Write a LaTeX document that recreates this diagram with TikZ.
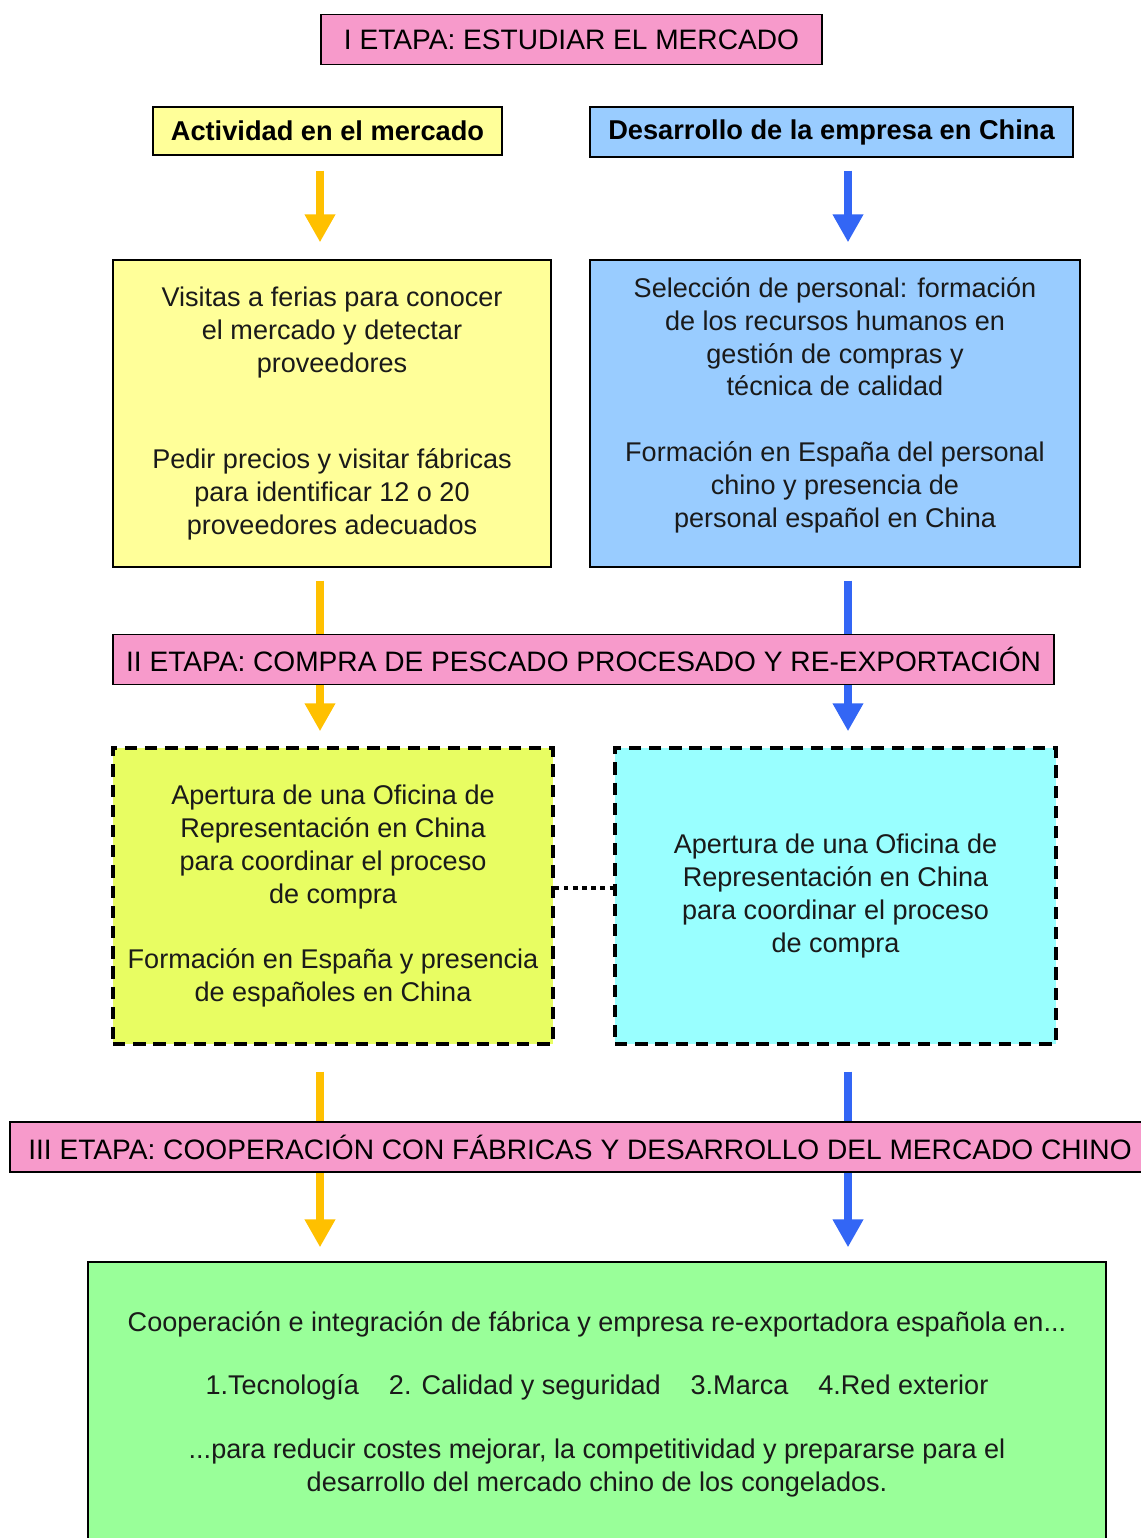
\documentclass[tikz,border=0pt]{standalone}
\usepackage{fontspec}
\setmainfont{Liberation Sans}
\usetikzlibrary{arrows.meta,positioning,backgrounds}
\definecolor{stagepink}{HTML}{F79ACB}
\definecolor{paleyellow}{HTML}{FFFF99}
\definecolor{paleblue}{HTML}{99CCFF}
\definecolor{limeyellow}{HTML}{E8FD62}
\definecolor{palecyan}{HTML}{99FFFF}
\definecolor{palegreen}{HTML}{99FF99}
\definecolor{goldarrow}{HTML}{FFC000}
\definecolor{bluearrow}{HTML}{3366F5}
\definecolor{textgray}{HTML}{1A1A1A}

\begin{document}
\begin{tikzpicture}[
    x=0.02cm, y=-0.02cm,
    font=\fontsize{15.4}{18.7}\selectfont,
    stage/.style={rectangle, draw=black, line width=0.8pt, fill=stagepink, inner sep=0pt, minimum height=1cm, font=\fontsize{16}{18.7}\selectfont},
    head/.style={rectangle, draw=black, line width=0.8pt, inner sep=0pt, minimum height=1cm, font=\fontsize{15.5}{18.7}\selectfont\bfseries},
    box/.style={rectangle, draw=black, line width=0.8pt, inner sep=0pt, align=center, text=textgray},
    dbox/.style={box, line width=2pt, dash pattern=on 7pt off 4.5pt},
    yarrow/.style={-{Triangle[width=0.58cm, length=0.56cm]}, line width=4.5pt, color=goldarrow},
    barrow/.style={-{Triangle[width=0.58cm, length=0.56cm]}, line width=4.5pt, color=bluearrow}
]
    \useasboundingbox (0,0) rectangle (1141,1538);

    % stages
    \node[stage, minimum width=10.02cm] (stage1) at (571.5,39.5) {I ETAPA: ESTUDIAR EL MERCADO};
    \node[stage, minimum width=18.82cm] (stage2) at (583.5,659.5) {II ETAPA: COMPRA DE PESCADO PROCESADO Y RE-EXPORTACIÓN};
    \node[stage, minimum width=22.8cm] (stage3) at (580,1147) {III ETAPA: COOPERACIÓN CON FÁBRICAS Y DESARROLLO DEL MERCADO CHINO};

    % column headers
    \node[head, fill=paleyellow, minimum width=6.98cm, minimum height=0.96cm] (act) at (327.5,131) {Actividad en el mercado};
    \node[head, fill=paleblue, minimum width=9.66cm] (desa) at (831.5,132) {Desarrollo de la empresa en China};

    % stage I boxes
    \node[box, fill=paleyellow, minimum width=8.76cm, minimum height=6.14cm] (ferias) at (332,413.5)
        {Visitas a ferias para conocer\\el mercado y detectar\\proveedores\\[36pt]
         Pedir precios y visitar fábricas\\para identificar 12 o 20\\proveedores adecuados};
    \node[box, fill=paleblue, minimum width=9.8cm, minimum height=6.14cm] (personal) at (835,413.5)
        {Selección de personal: formación\\de los recursos humanos en\\gestión de compras y\\técnica de calidad\\[18.7pt]
         Formación en España del personal\\chino y presencia de\\personal español en China\\[-6pt]};

    % stage II boxes
    \node[dbox, fill=limeyellow, minimum width=8.8cm, minimum height=5.92cm] (ofiL) at (333,896)
        {Apertura de una Oficina de\\Representación en China\\para coordinar el proceso\\de compra\\[18.7pt]
         Formación en España y presencia\\de españoles en China};
    \node[dbox, fill=palecyan, minimum width=8.82cm, minimum height=5.92cm] (ofiR) at (835.5,896)
        {Apertura de una Oficina de\\Representación en China\\para coordinar el proceso\\de compra};

    % stage III box
    \node[box, fill=palegreen, minimum width=20.36cm, minimum height=5.68cm] (coop) at (597,1404)
        {Cooperación e integración de fábrica y empresa re-exportadora española en...\\[17.5pt]
         1.Tecnología\hspace{0.6cm}2. Calidad y seguridad\hspace{0.6cm}3.Marca\hspace{0.6cm}4.Red exterior\\[17.5pt]
         ...para reducir costes mejorar, la competitividad y prepararse para el\\desarrollo del mercado chino de los congelados.};

    \coordinate (colL) at (320,0);
    \coordinate (colR) at (848,0);

    \draw[line width=2.5pt, dash pattern=on 2.6pt off 2.6pt] ([yshift=0.16cm]ofiL.east) -- ([yshift=0.16cm]ofiR.west);

    \begin{pgfonlayer}{background}
        \draw[yarrow, shorten <=0.3cm, shorten >=0.34cm] (act.south -| colL) -- (ferias.north -| colL);
        \draw[barrow, shorten <=0.26cm, shorten >=0.34cm] (desa.south -| colR) -- (personal.north -| colR);
        \draw[yarrow, shorten <=0.26cm, shorten >=0.3cm] (ferias.south -| colL) -- (ofiL.north -| colL);
        \draw[barrow, shorten <=0.26cm, shorten >=0.3cm] (personal.south -| colR) -- (ofiR.north -| colR);
        \draw[yarrow, shorten <=0.52cm, shorten >=0.28cm] (ofiL.south -| colL) -- (coop.north -| colL);
        \draw[barrow, shorten <=0.52cm, shorten >=0.28cm] (ofiR.south -| colR) -- (coop.north -| colR);
    \end{pgfonlayer}
\end{tikzpicture}
\end{document}
